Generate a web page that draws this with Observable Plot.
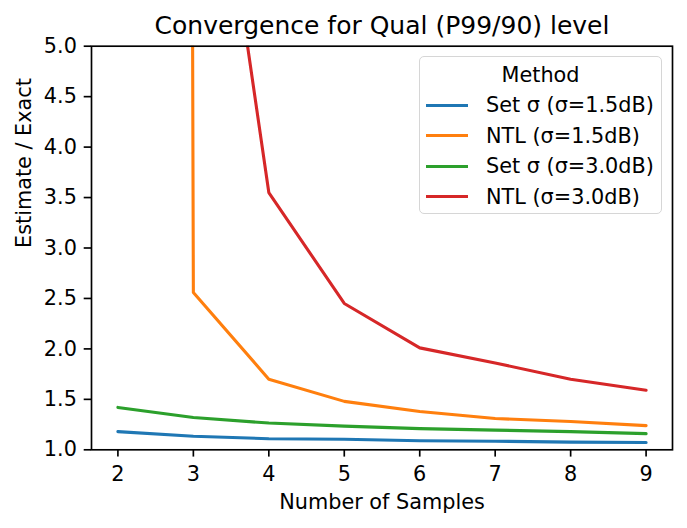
<!DOCTYPE html>
<html>
<head>
<meta charset="utf-8">
<script src="https://cdn.jsdelivr.net/npm/d3@7"></script>
<script src="https://cdn.jsdelivr.net/npm/@observablehq/plot@0.6"></script>
<style>
  body { margin: 0; background: #fff; font-family: "DejaVu Sans", sans-serif; }
  #chart { position: relative; width: 687px; height: 528px; }
  .legend {
    position: absolute; left: 419px; top: 56px; width: 243px; height: 158px;
    box-sizing: border-box; border: 1.5px solid #d6d6d6; border-radius: 5px;
    background: rgba(255,255,255,0.85); font-size: 20.8px; color: #000;
  }
  .legend .ttl { position: absolute; left: 0; right: 0; top: 4px; text-align: center; line-height: 28px; }
  .legend .row { position: absolute; left: 0; height: 28px; line-height: 28px; white-space: nowrap; }
  .legend .sw { position: absolute; left: 6px; top: 12.5px; width: 42px; height: 3.1px; }
  .legend .lb { position: absolute; left: 66px; top: 0; }
</style>
</head>
<body>
<div id="chart"></div>
<script>
// Sample counts on the x axis
const samples = [2, 3, 4, 5, 6, 7, 8, 9];

// Estimate / Exact ratio for each method
const setSigma15 = [1.18, 1.135, 1.11, 1.105, 1.09, 1.085, 1.076, 1.073];
const ntl15      = [250, 2.56, 1.70, 1.48, 1.38, 1.31, 1.28, 1.24];
const setSigma30 = [1.42, 1.32, 1.265, 1.235, 1.21, 1.195, 1.18, 1.16];
const ntl30      = [30, 8.7, 3.55, 2.45, 2.01, 1.86, 1.70, 1.59];

const seriesNames  = ["Set σ (σ=1.5dB)", "NTL (σ=1.5dB)", "Set σ (σ=3.0dB)", "NTL (σ=3.0dB)"];
const seriesValues = [setSigma15, ntl15, setSigma30, ntl30];
const seriesColors = ["#1f77b4", "#ff7f0e", "#2ca02c", "#d62728"];

const yTicks = [1.0, 1.5, 2.0, 2.5, 3.0, 3.5, 4.0, 4.5, 5.0];

const titleText = "Convergence for Qual (P99/90) level";
const xLabel = "Number of Samples";
const yLabel = "Estimate / Exact";
const legendTitle = "Method";

// Long-format table for the line mark
const rows = seriesNames.flatMap((name, i) =>
  samples.map((n, j) => ({ method: name, n, ratio: seriesValues[i][j] }))
);

const chart = Plot.plot({
  width: 687,
  height: 528,
  marginTop: 45.7,
  marginBottom: 78.7,
  marginLeft: 91,
  marginRight: 15,
  style: { fontFamily: "DejaVu Sans", fontSize: "20.8px", color: "black", background: "white", overflow: "visible" },
  x: { domain: [1.65, 9.35] },
  y: { domain: [1, 5] },
  color: { domain: seriesNames, range: seriesColors },
  marks: [
    Plot.line(rows, { x: "n", y: "ratio", z: "method", stroke: "method", strokeWidth: 3.1, clip: true, strokeLinejoin: "round" }),
    Plot.frame({ stroke: "black", strokeWidth: 1.67 }),
    Plot.axisX({ ticks: samples, tickSize: 7.3, tickPadding: 9.5, strokeWidth: 1.67, label: null }),
    Plot.axisY({ ticks: yTicks, tickFormat: d3.format(".1f"), tickSize: 7.3, tickPadding: 7.3, strokeWidth: 1.67, label: null }),
    Plot.text([titleText], { text: d => d, frameAnchor: "top", lineAnchor: "bottom", dy: -12.7, fontSize: 25 }),
    Plot.text([xLabel], { text: d => d, frameAnchor: "bottom", lineAnchor: "bottom", dy: 59 }),
    Plot.text([yLabel], { text: d => d, frameAnchor: "left", rotate: -90, lineAnchor: "bottom", dx: -61 })
  ]
});

const root = document.getElementById("chart");
root.appendChild(chart);

// Legend box in the upper right of the axes
const legend = d3.select(root).append("div").attr("class", "legend");
legend.append("div").attr("class", "ttl").text(legendTitle);
seriesNames.forEach((name, i) => {
  const row = legend.append("div").attr("class", "row").style("top", `${34 + i * 30.6}px`);
  row.append("div").attr("class", "sw").style("background", seriesColors[i]);
  row.append("div").attr("class", "lb").text(name);
});
</script>
</body>
</html>
